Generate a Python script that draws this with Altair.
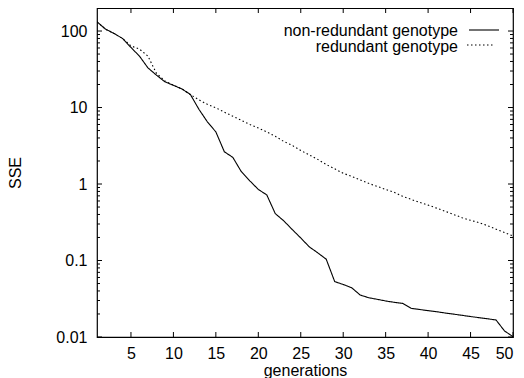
import altair as alt
import pandas as pd

generations = list(range(1, 51))
non_redundant = [132, 106, 93, 80, 61, 47, 33, 26.5, 21.7, 19.5,
                 17.5, 14.8, 9.5, 6.5, 4.8, 2.64, 2.23, 1.45, 1.1, 0.85,
                 0.72, 0.41, 0.33, 0.254, 0.197, 0.151, 0.126, 0.104, 0.053, 0.0486,
                 0.044, 0.0354, 0.0326, 0.0311, 0.0296, 0.0284, 0.0275, 0.0237, 0.0229, 0.0221,
                 0.0214, 0.0206, 0.0199, 0.0192, 0.0185, 0.0179, 0.0173, 0.0167, 0.012, 0.0101]
redundant = [132, 106, 93, 80, 64, 58, 47, 28, 22.3, 19.6,
             17.5, 14.8, 12.6, 11.0, 9.9, 8.7, 7.7, 6.8, 6.0, 5.4,
             4.8, 4.2, 3.6, 3.2, 2.75, 2.4, 2.1, 1.8, 1.58, 1.38,
             1.26, 1.13, 1.02, 0.93, 0.85, 0.78, 0.69, 0.63, 0.575, 0.53,
             0.484, 0.44, 0.40, 0.363, 0.335, 0.313, 0.285, 0.257, 0.232, 0.209]
series_names = ["non-redundant genotype", "redundant genotype"]
x_ticks = [5, 10, 15, 20, 25, 30, 35, 40, 45, 50]
y_ticks = [0.01, 0.1, 1, 10, 100]
y_minor = [k * 10.0 ** e for e in range(-2, 3) for k in range(2, 10) if k * 10.0 ** e <= 200]

W, H = 416, 329
FONT = "Liberation Sans"

df = pd.concat([
    pd.DataFrame({"generation": generations, "sse": non_redundant, "series": series_names[0]}),
    pd.DataFrame({"generation": generations, "sse": redundant, "series": series_names[1]}),
])

xscale = alt.Scale(domain=[1, 50], nice=False, zero=False)
yscale = alt.Scale(type="log", domain=[0.01, 200], nice=False)
dash_scale = alt.Scale(domain=series_names, range=[[1, 0], [1.5, 2.5]])

xaxis = alt.Axis(values=x_ticks, format="d", ticks=False, domain=False, grid=False,
                 labelFont=FONT, labelFontSize=16, labelColor="black", labelPadding=8,
                 title="generations", titleFont=FONT, titleFontSize=16,
                 titleFontWeight="normal", titleColor="black", titlePadding=1)
yaxis = alt.Axis(values=y_ticks, format="~g", ticks=False, domain=False, grid=False,
                 labelFont=FONT, labelFontSize=16, labelColor="black", labelPadding=10,
                 title="SSE", titleFont=FONT, titleFontSize=16,
                 titleFontWeight="normal", titleColor="black", titlePadding=32)

lines = alt.Chart(df).mark_line(color="black", strokeWidth=1.1, clip=True).encode(
    x=alt.X("generation:Q", scale=xscale, axis=xaxis, title="generations"),
    y=alt.Y("sse:Q", scale=yscale, axis=yaxis, title="SSE"),
    strokeDash=alt.StrokeDash("series:N", scale=dash_scale, legend=None),
    detail="series:N",
)

xt = pd.DataFrame({"v": x_ticks})
yt = pd.DataFrame({"v": y_ticks})
ym = pd.DataFrame({"v": y_minor})

def xtick(y0, y1):
    return alt.Chart(xt).mark_rule(color="black", strokeWidth=1).encode(
        x=alt.X("v:Q", scale=xscale, axis=xaxis, title="generations"),
        y=alt.value(y0), y2=alt.value(y1))

def ytick(data, x0, x1):
    return alt.Chart(data).mark_rule(color="black", strokeWidth=1).encode(
        y=alt.Y("v:Q", scale=yscale, axis=yaxis, title="SSE"),
        x=alt.value(x0), x2=alt.value(x1))

ticks = [
    xtick(H, H - 5), xtick(0, 5),
    ytick(yt, 0, 5), ytick(yt, W, W - 5),
    ytick(ym, 0, 3), ytick(ym, W, W - 3),
]

leg = pd.DataFrame({"name": series_names})
leg1 = alt.Chart(leg).transform_filter(alt.datum.name == series_names[0])
leg2 = alt.Chart(leg).transform_filter(alt.datum.name == series_names[1])
legend = [
    leg1.mark_text(align="right", baseline="middle", font=FONT, fontSize=16, color="black").encode(
        text="name:N", x=alt.value(361), y=alt.value(23)),
    leg2.mark_text(align="right", baseline="middle", font=FONT, fontSize=16, color="black").encode(
        text="name:N", x=alt.value(361), y=alt.value(38.5)),
    leg1.mark_rule(color="black", strokeWidth=1.1).encode(
        x=alt.value(372), x2=alt.value(402), y=alt.value(22)),
    leg2.mark_rule(color="black", strokeWidth=1.1, strokeDash=[1.5, 2.5]).encode(
        x=alt.value(370), x2=alt.value(398), y=alt.value(37)),
]

chart = alt.layer(lines, *ticks, *legend).properties(
    width=W, height=H,
    padding={"left": 89, "top": 0, "right": 3, "bottom": 41},
    autosize=alt.AutoSizeParams(type="none"),
).configure_view(stroke="black", strokeWidth=1.2)

chart.save("out.html", embed_options={"renderer": "svg", "actions": False})
